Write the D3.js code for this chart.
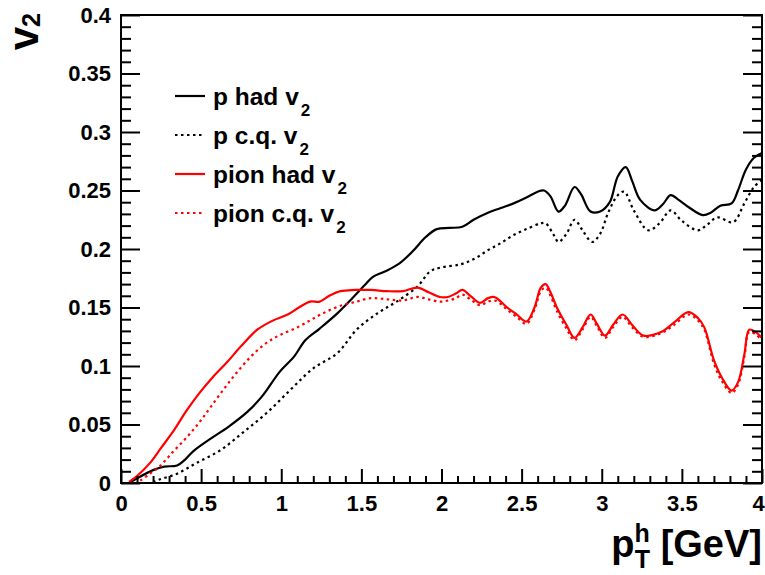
<!DOCTYPE html>
<html>
<head>
<meta charset="utf-8">
<script src="https://cdn.jsdelivr.net/npm/d3@7"></script>
<style>
html,body{margin:0;padding:0;background:#fff;}
svg{display:block;}
text{font-family:"Liberation Sans",Arial,Helvetica,sans-serif;font-weight:bold;}
</style>
</head>
<body>
<svg id="chart" width="765" height="575"></svg>
<script>
// ---- data ----
const pHadX = [0.05,0.1,0.2,0.27,0.35,0.4,0.45,0.55,0.67,0.79,0.88,0.99,1.08,1.15,1.24,1.35,1.43,1.52,1.57,1.65,1.74,1.82,1.9,1.97,2.05,2.13,2.2,2.29,2.37,2.45,2.53,2.6,2.64,2.68,2.73,2.77,2.83,2.87,2.93,2.99,3.05,3.1,3.15,3.19,3.24,3.33,3.38,3.43,3.48,3.55,3.63,3.68,3.74,3.81,3.85,3.9,3.95,4.0];
const pHadY = [0,0.004,0.011,0.014,0.015,0.02,0.027,0.037,0.048,0.061,0.074,0.095,0.108,0.122,0.132,0.145,0.156,0.169,0.176,0.181,0.188,0.198,0.21,0.217,0.218,0.219,0.225,0.231,0.235,0.239,0.244,0.249,0.25,0.245,0.232,0.237,0.253,0.247,0.232,0.232,0.24,0.262,0.27,0.258,0.242,0.233,0.238,0.246,0.242,0.235,0.229,0.231,0.237,0.239,0.25,0.268,0.278,0.282];

const pCqX = [0.2,0.24,0.35,0.47,0.62,0.76,0.91,1.06,1.2,1.35,1.47,1.6,1.72,1.85,1.93,1.99,2.12,2.21,2.29,2.37,2.45,2.53,2.62,2.65,2.7,2.73,2.78,2.83,2.88,2.94,2.99,3.04,3.1,3.14,3.2,3.29,3.36,3.43,3.5,3.6,3.66,3.72,3.82,3.89,3.95,4.0];
const pCqY = [0.001,0.003,0.008,0.017,0.028,0.043,0.06,0.08,0.098,0.111,0.131,0.145,0.155,0.168,0.181,0.184,0.187,0.192,0.199,0.205,0.212,0.217,0.222,0.222,0.212,0.206,0.213,0.225,0.216,0.206,0.213,0.231,0.246,0.249,0.233,0.216,0.222,0.233,0.224,0.216,0.221,0.227,0.223,0.239,0.253,0.259];

const piHadX = [0.05,0.1,0.18,0.25,0.33,0.41,0.49,0.57,0.66,0.75,0.85,0.95,1.04,1.11,1.18,1.24,1.3,1.37,1.46,1.56,1.66,1.76,1.85,1.92,1.99,2.04,2.09,2.13,2.18,2.24,2.29,2.33,2.37,2.41,2.47,2.53,2.58,2.62,2.65,2.68,2.72,2.78,2.83,2.88,2.93,2.97,3.02,3.07,3.13,3.19,3.26,3.37,3.45,3.54,3.6,3.64,3.7,3.75,3.81,3.85,3.89,3.92,3.96,4.0];
const piHadY = [0.001,0.006,0.017,0.03,0.045,0.062,0.077,0.09,0.103,0.117,0.131,0.139,0.144,0.15,0.155,0.155,0.16,0.164,0.165,0.165,0.164,0.164,0.167,0.163,0.159,0.159,0.162,0.165,0.16,0.154,0.158,0.159,0.155,0.15,0.144,0.138,0.15,0.167,0.17,0.163,0.15,0.135,0.124,0.133,0.144,0.136,0.126,0.135,0.144,0.135,0.126,0.129,0.137,0.146,0.141,0.133,0.105,0.09,0.079,0.086,0.11,0.131,0.129,0.124];

const piCqX = [0.12,0.18,0.24,0.32,0.41,0.49,0.56,0.64,0.72,0.81,0.91,1.0,1.1,1.18,1.26,1.36,1.47,1.56,1.66,1.76,1.85,1.92,1.99,2.04,2.09,2.13,2.18,2.24,2.29,2.33,2.37,2.41,2.47,2.53,2.58,2.62,2.65,2.68,2.72,2.78,2.83,2.88,2.93,2.97,3.02,3.07,3.13,3.19,3.26,3.37,3.45,3.54,3.6,3.64,3.7,3.75,3.81,3.85,3.89,3.92,3.96,4.0];
const piCqY = [0.002,0.008,0.014,0.026,0.039,0.052,0.065,0.08,0.094,0.108,0.12,0.127,0.133,0.139,0.145,0.151,0.155,0.158,0.157,0.156,0.159,0.157,0.155,0.156,0.158,0.161,0.157,0.152,0.155,0.156,0.153,0.148,0.142,0.136,0.148,0.164,0.167,0.16,0.147,0.132,0.122,0.131,0.142,0.134,0.124,0.133,0.142,0.133,0.125,0.128,0.135,0.144,0.139,0.131,0.102,0.087,0.077,0.084,0.108,0.129,0.127,0.122];

const xMajorTicks = [0,0.5,1,1.5,2,2.5,3,3.5,4];
const yMajorTicks = [0,0.05,0.1,0.15,0.2,0.25,0.3,0.35,0.4];
const legendLabels = ["p had v","p c.q. v","pion had v","pion c.q. v"];

// ---- layout ----
const svg = d3.select("#chart");
const L = 121, R = 762, T = 15, B = 483;
const x = d3.scaleLinear().domain([0,4]).range([L,R]);
const y = d3.scaleLinear().domain([0,0.4]).range([B,T]);

const series = [
  {xs:pHadX, ys:pHadY, color:"#000", dash:null},
  {xs:pCqX, ys:pCqY, color:"#000", dash:"2.5,3.5"},
  {xs:piHadX, ys:piHadY, color:"#ff0000", dash:null},
  {xs:piCqX, ys:piCqY, color:"#ff0000", dash:"2.5,3.5"}
];

const fmt = d => String(+d.toFixed(2));
const xMinor = d3.range(0,41).map(i=>i/10).filter(v=>Math.abs(v*2-Math.round(v*2))>1e-6);
const yMinor = d3.range(0,41).map(i=>i/100).filter(v=>Math.abs(v*20-Math.round(v*20))>1e-6);

// curves (clipped)
svg.append("clipPath").attr("id","clip").append("rect")
  .attr("x",L).attr("y",T).attr("width",R-L).attr("height",B-T);
const line = d3.line().curve(d3.curveCatmullRom.alpha(0.5)).x(d=>x(d[0])).y(d=>y(d[1]));
const g = svg.append("g").attr("clip-path","url(#clip)");
series.forEach(s=>{
  g.append("path")
    .datum(s.xs.map((v,i)=>[v,s.ys[i]]))
    .attr("d",line)
    .attr("fill","none")
    .attr("stroke",s.color)
    .attr("stroke-width",2.2)
    .attr("stroke-dasharray",s.dash);
});

// axes
function styleAxis(sel){
  sel.select(".domain").remove();
  sel.selectAll("line").attr("stroke","#000").attr("stroke-width",2);
  sel.selectAll("text").attr("fill","#000").style("font-size","22px");
}
const xAxisG = svg.append("g").attr("transform",`translate(0,${B})`)
  .call(d3.axisBottom(x).tickValues(xMajorTicks).tickSize(-14).tickPadding(12).tickFormat(fmt))
  .call(styleAxis);
// keep the last label ("4") inside the window
xAxisG.selectAll(".tick text").filter(d=>d===4).attr("dx",-4);
svg.append("g").attr("transform",`translate(0,${B})`)
  .call(d3.axisBottom(x).tickValues(xMinor).tickSize(-7).tickFormat(""))
  .call(styleAxis);
svg.append("g").attr("transform",`translate(${L},0)`)
  .call(d3.axisLeft(y).tickValues(yMajorTicks).tickSize(-19).tickPadding(10).tickFormat(fmt))
  .call(styleAxis);
svg.append("g").attr("transform",`translate(${L},0)`)
  .call(d3.axisLeft(y).tickValues(yMinor).tickSize(-10).tickFormat(""))
  .call(styleAxis);
svg.append("g").attr("transform",`translate(${R},0)`)
  .call(d3.axisRight(y).tickValues(yMajorTicks).tickSize(-19).tickFormat(""))
  .call(styleAxis);
svg.append("g").attr("transform",`translate(${R},0)`)
  .call(d3.axisRight(y).tickValues(yMinor).tickSize(-10).tickFormat(""))
  .call(styleAxis);

// frame
svg.append("rect").attr("x",L).attr("y",T).attr("width",R-L).attr("height",B-T)
  .attr("fill","none").attr("stroke","#000").attr("stroke-width",2);

// axis titles
const xt = svg.append("text").attr("x",R).attr("y",557).attr("text-anchor","end").style("font-size","38px");
xt.append("tspan").text("p");
xt.append("tspan").attr("dy",-15).style("font-size","25px").text("h");
xt.append("tspan").attr("dx",-15).attr("dy",26).style("font-size","25px").text("T");
xt.append("tspan").attr("dy",-11).text(" [GeV]");

const yt = svg.append("text").attr("transform","translate(38,13) rotate(-90)")
  .attr("text-anchor","end").style("font-size","42px");
yt.append("tspan").text("v");
yt.append("tspan").attr("dy",2).style("font-size","25px").text("2");

// legend
legendLabels.forEach((lab,i)=>{
  const s = series[i];
  const ly = 96 + i*39;
  svg.append("line").attr("x1",175).attr("x2",205).attr("y1",ly).attr("y2",ly)
    .attr("stroke",s.color).attr("stroke-width",2.2).attr("stroke-dasharray",s.dash);
  const t = svg.append("text").attr("x",213).attr("y",ly+9).style("font-size","24.5px");
  t.append("tspan").text(lab);
  t.append("tspan").attr("dx",2).attr("dy",11).style("font-size","17px").text("2");
});
</script>
</body>
</html>
